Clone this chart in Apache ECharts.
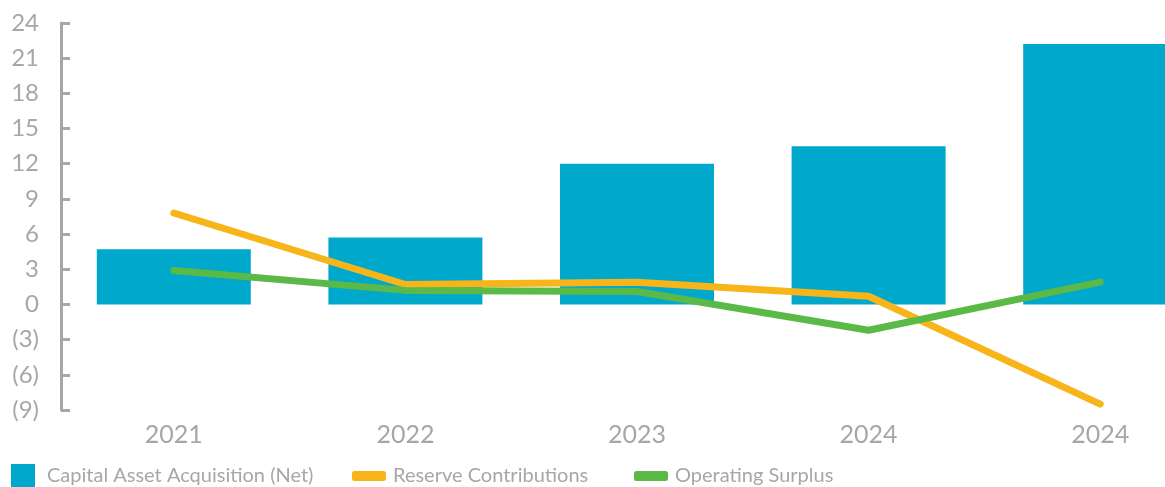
<!DOCTYPE html>
<html>
<head>
<meta charset="utf-8">
<style>
  html, body { margin: 0; padding: 0; background: #fff; }
  #chart { width: 1165px; height: 487px; }
</style>
<script src="https://cdn.jsdelivr.net/npm/echarts@6/dist/echarts.min.js"></script>
</head>
<body>
<div id="chart"></div>
<script>
// data
var years = ['2021', '2022', '2023', '2024', '2024'];
var capitalAsset = [4.7, 5.7, 12.0, 13.5, 22.2];
var reserveContrib = [7.8, 1.7, 1.9, 0.7, -8.5];
var operatingSurplus = [2.9, 1.2, 1.1, -2.2, 1.9];

var grey = '#a7a7a9';
var font = 'Lato';

var myChart = echarts.init(document.getElementById('chart'));

option = {
    animation: false,
    textStyle: {fontFamily: font},
    grid: {
        left: 58,
        top: 23,
        width: 1158,
        bottom: 77,
        outerBoundsMode: 'none'
    },
    legend: [
        {
            data: [{name: 'Capital Asset Acquisition (Net)', icon: 'rect'}],
            left: 11, top: 464, padding: 0,
            itemWidth: 24, itemHeight: 23,
            textStyle: {color: grey, fontSize: 20, fontFamily: font, padding: [0, 0, 0, 7]}
        },
        {
            data: [{name: 'Reserve Contributions', icon: 'roundRect'}],
            left: 352, top: 466, padding: 0,
            itemWidth: 34, itemHeight: 10,
            textStyle: {color: grey, fontSize: 20, fontFamily: font, padding: [0, 0, 0, 2]}
        },
        {
            data: [{name: 'Operating Surplus', icon: 'roundRect'}],
            left: 634, top: 466, padding: 0,
            itemWidth: 34, itemHeight: 10,
            textStyle: {color: grey, fontSize: 20, fontFamily: font, padding: [0, 0, 0, 2]}
        }
    ],
    xAxis: {
        type: 'category',
        data: years,
        axisLine: {show: false},
        axisTick: {show: false},
        axisLabel: {
            color: grey,
            fontSize: 25,
            margin: 12,
            fontFamily: font
        }
    },
    yAxis: {
        type: 'value',
        min: -9,
        max: 24,
        interval: 3,
        offset: -3,
        splitLine: {show: false},
        axisLine: {show: true, lineStyle: {color: grey, width: 3}},
        axisTick: {show: true, inside: true, length: 9, lineStyle: {color: grey, width: 3}},
        axisLabel: {
            color: grey,
            fontSize: 24,
            margin: 22,
            fontFamily: font,
            formatter: function (v) {
                return v < 0 ? '(' + (-v) + ')' : String(v);
            }
        }
    },
    series: [
        {
            name: 'Capital Asset Acquisition (Net)',
            type: 'bar',
            data: capitalAsset,
            barWidth: 154,
            itemStyle: {color: '#00a8cc'}
        },
        {
            name: 'Reserve Contributions',
            type: 'line',
            data: reserveContrib,
            showSymbol: false,
            symbol: 'none',
            itemStyle: {color: '#f7b51a'},
            lineStyle: {color: '#f7b51a', width: 7, cap: 'round', join: 'round'}
        },
        {
            name: 'Operating Surplus',
            type: 'line',
            data: operatingSurplus,
            showSymbol: false,
            symbol: 'none',
            itemStyle: {color: '#5bb947'},
            lineStyle: {color: '#5bb947', width: 7, cap: 'round', join: 'round'}
        }
    ]
};
myChart.setOption(option);
</script>
</body>
</html>
